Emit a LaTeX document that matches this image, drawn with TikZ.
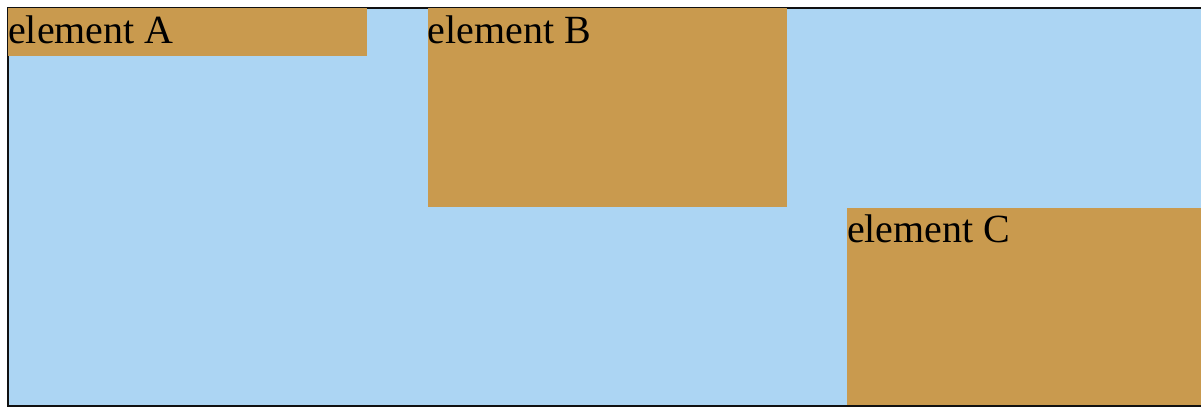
\documentclass[tikz,border=0pt]{standalone}
\usepackage{fontspec}
\setmainfont{Liberation Serif}
\definecolor{elemtan}{HTML}{C99A4E}
\definecolor{framebg}{HTML}{ACD5F3}
\definecolor{frameline}{HTML}{111111}

\begin{document}
\begin{tikzpicture}[
  x=1pt, y=-1pt,
  font=\fontsize{40}{46}\selectfont,
  framebox/.style={
    draw=frameline,
    line width=2pt,
    fill=framebg,
    rectangle,
    anchor=north west,
    inner sep=0pt,
    minimum width=1200pt,
    minimum height=398pt
  },
  elembox/.style={
    fill=elemtan,
    rectangle,
    anchor=north west,
    inner sep=0pt,
    text width=359pt,
    align=flush left,
    text height=35pt,
    text=black
  }
]
  \useasboundingbox (0,0) rectangle (1201,407);

  % --- Container ---
  \node[framebox] (cont) at (7,7) {};

  % --- Elements, each placed off the previous one ---
  \node[elembox, text depth=13pt]  (elemA) at (8,8) {element A};
  \node[elembox, text depth=164pt] (elemB) at ([xshift=60pt]elemA.north east) {element B};
  \node[elembox, text depth=162pt] (elemC) at ([xshift=60pt]elemB.south east) {element C};

\end{tikzpicture}
\end{document}
